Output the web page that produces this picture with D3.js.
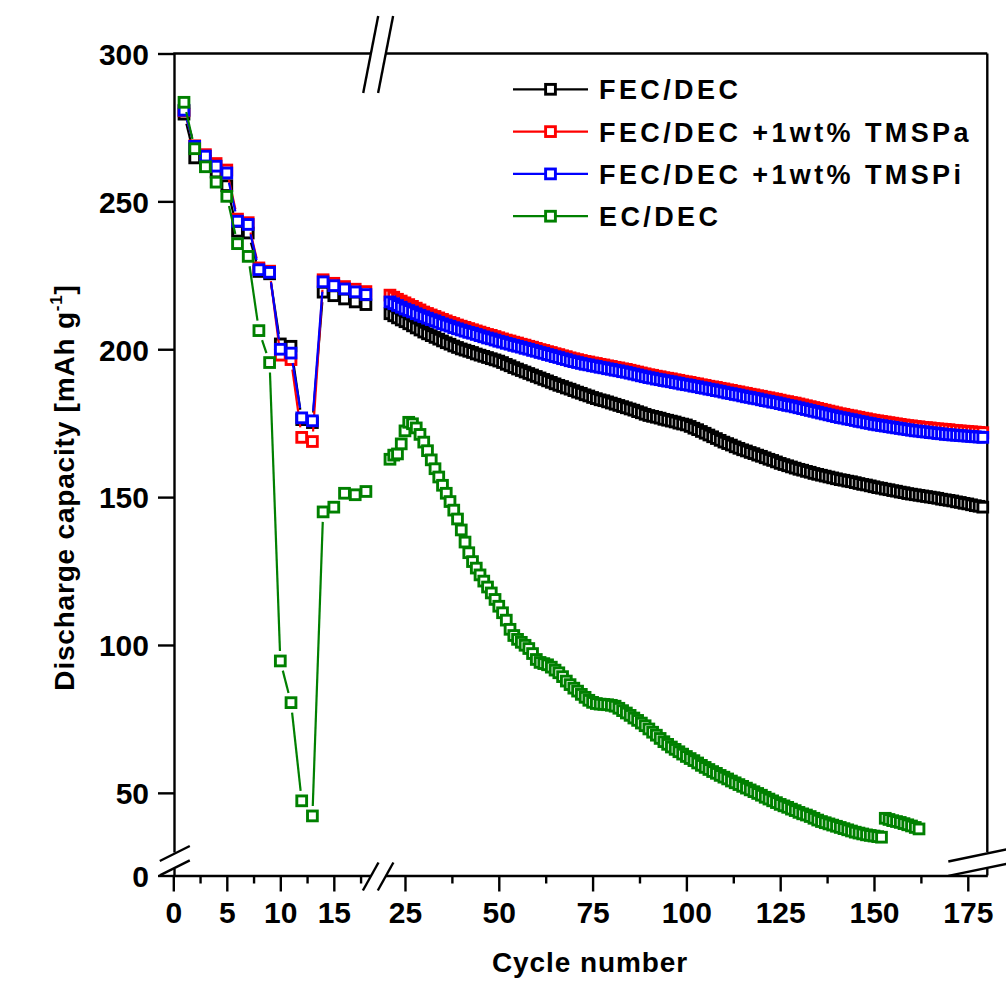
<!DOCTYPE html>
<html>
<head>
<meta charset="utf-8">
<script src="https://cdn.jsdelivr.net/npm/d3@7"></script>
<style>
  body { margin: 0; background: #fff; }
  svg text { font-family: "Liberation Sans", Arial, sans-serif; font-weight: bold; fill: #000; }
</style>
</head>
<body>
<svg id="chart" width="1006" height="983"></svg>
<script>
const seriesNames = ["FEC/DEC", "FEC/DEC +1wt% TMSPa", "FEC/DEC +1wt% TMSPi", "EC/DEC"];
const seriesColors = ["#000000", "#ff0000", "#0000ff", "#008000"];

// cycles 1..18 (left part of the broken x axis)
const earlyStart = 1;
const black1 = [279.5, 264.7, 263.6, 259.9, 255.3, 239.9, 239.3, 226.3, 225.5, 201.8, 201.0, 176.2, 175.2, 219.3, 218.1, 217.0, 216.0, 215.1];
const red1   = [280.6, 268.8, 265.8, 262.8, 260.6, 244.0, 242.8, 227.5, 226.4, 198.0, 196.5, 170.2, 168.8, 223.5, 222.3, 221.2, 220.3, 219.5];
const blue1  = [280.8, 268.6, 265.3, 261.9, 259.6, 243.3, 242.2, 226.9, 226.0, 200.0, 198.7, 176.8, 175.8, 222.8, 221.5, 220.4, 219.4, 218.5];
const green1 = [283.5, 267.8, 261.7, 256.5, 251.7, 235.7, 231.4, 206.3, 195.5, 94.6, 80.5, 47.3, 42.2, 145.0, 146.6, 151.3, 150.8, 151.9];

// cycles 21.. (right part of the broken x axis)
const lateStart = 21;
const black2 = [
  212.0, 211.3, 210.6, 209.9, 209.3, 208.6, 207.9, 207.2, 206.5, 205.8,
  205.2, 204.6, 204.0, 203.4, 202.8, 202.2, 201.7, 201.1, 200.6, 200.1,
  199.7, 199.3, 198.9, 198.4, 198.0, 197.6, 197.2, 196.8, 196.4, 196.0,
  195.5, 194.9, 194.4, 193.8, 193.3, 192.8, 192.3, 191.8, 191.3, 190.8,
  190.3, 189.8, 189.3, 188.8, 188.3, 187.8, 187.4, 186.9, 186.5, 186.0,
  185.5, 185.1, 184.6, 184.2, 183.7, 183.3, 182.9, 182.6, 182.2, 181.8,
  181.4, 181.0, 180.6, 180.2, 179.8, 179.4, 178.9, 178.5, 178.0, 177.6,
  177.3, 177.0, 176.7, 176.3, 176.0, 175.7, 175.4, 175.0, 174.7, 174.4,
  173.9, 173.3, 172.8, 172.2, 171.6, 171.0, 170.4, 169.8, 169.2, 168.6,
  168.1, 167.6, 167.0, 166.5, 166.0, 165.6, 165.1, 164.7, 164.2, 163.8,
  163.3, 162.8, 162.4, 161.9, 161.4, 161.0, 160.6, 160.2, 159.8, 159.4,
  159.1, 158.7, 158.4, 158.0, 157.7, 157.4, 157.1, 156.8, 156.5, 156.2,
  155.9, 155.7, 155.4, 155.2, 154.9, 154.6, 154.3, 154.1, 153.8, 153.5,
  153.2, 153.0, 152.7, 152.5, 152.2, 152.0, 151.7, 151.5, 151.2, 151.0,
  150.8, 150.6, 150.4, 150.2, 150.0, 149.8, 149.6, 149.3, 149.1, 148.9,
  148.7, 148.4, 148.2, 147.9, 147.7, 147.4, 147.1, 146.9, 146.6
];
const red2 = [
  218.3, 217.6, 216.9, 216.3, 215.7, 215.1, 214.5, 213.9, 213.3, 212.6,
  212.1, 211.6, 211.1, 210.6, 210.1, 209.6, 209.1, 208.7, 208.2, 207.8,
  207.4, 207.0, 206.6, 206.2, 205.8, 205.4, 205.0, 204.7, 204.3, 203.9,
  203.5, 203.1, 202.8, 202.4, 202.1, 201.7, 201.4, 201.0, 200.7, 200.3,
  199.9, 199.6, 199.2, 198.9, 198.5, 198.2, 197.8, 197.5, 197.1, 196.8,
  196.5, 196.2, 195.9, 195.7, 195.4, 195.2, 194.9, 194.7, 194.4, 194.2,
  193.9, 193.7, 193.4, 193.2, 192.9, 192.6, 192.3, 192.0, 191.7, 191.4,
  191.2, 190.9, 190.7, 190.4, 190.2, 190.0, 189.7, 189.5, 189.2, 189.0,
  188.8, 188.5, 188.3, 188.0, 187.8, 187.5, 187.3, 187.1, 186.8, 186.6,
  186.3, 186.1, 185.8, 185.6, 185.3, 185.1, 184.8, 184.6, 184.3, 184.1,
  183.8, 183.6, 183.3, 183.1, 182.8, 182.5, 182.3, 182.0, 181.8, 181.5,
  181.2, 180.9, 180.6, 180.3, 180.0, 179.7, 179.4, 179.1, 178.8, 178.5,
  178.2, 178.0, 177.7, 177.5, 177.2, 177.0, 176.7, 176.5, 176.2, 176.0,
  175.8, 175.6, 175.4, 175.2, 175.0, 174.8, 174.6, 174.4, 174.2, 174.1,
  173.9, 173.8, 173.6, 173.5, 173.4, 173.2, 173.1, 173.0, 172.9, 172.8,
  172.6, 172.5, 172.4, 172.3, 172.2, 172.1, 172.0, 171.9, 171.8
];
const blue2 = [
  216.0, 215.4, 214.8, 214.2, 213.6, 213.1, 212.6, 212.0, 211.5, 211.0,
  210.5, 210.0, 209.6, 209.1, 208.6, 208.2, 207.8, 207.3, 206.9, 206.5,
  206.1, 205.7, 205.4, 205.0, 204.6, 204.2, 203.8, 203.5, 203.1, 202.7,
  202.4, 202.0, 201.7, 201.3, 201.0, 200.7, 200.3, 200.0, 199.6, 199.3,
  198.9, 198.6, 198.2, 197.9, 197.5, 197.2, 196.8, 196.5, 196.1, 195.8,
  195.5, 195.2, 194.9, 194.7, 194.4, 194.2, 193.9, 193.7, 193.4, 193.2,
  192.9, 192.7, 192.4, 192.2, 191.9, 191.6, 191.3, 191.0, 190.7, 190.4,
  190.2, 189.9, 189.7, 189.4, 189.2, 189.0, 188.7, 188.5, 188.2, 188.0,
  187.8, 187.5, 187.3, 187.0, 186.8, 186.5, 186.3, 186.0, 185.8, 185.5,
  185.2, 185.0, 184.7, 184.5, 184.2, 183.9, 183.7, 183.4, 183.2, 182.9,
  182.6, 182.4, 182.1, 181.9, 181.6, 181.3, 181.0, 180.8, 180.5, 180.2,
  179.9, 179.6, 179.3, 179.0, 178.7, 178.4, 178.1, 177.8, 177.5, 177.2,
  176.9, 176.7, 176.4, 176.2, 175.9, 175.6, 175.4, 175.1, 174.9, 174.6,
  174.4, 174.2, 174.0, 173.8, 173.6, 173.4, 173.2, 173.0, 172.8, 172.6,
  172.4, 172.3, 172.1, 172.0, 171.8, 171.7, 171.5, 171.4, 171.2, 171.1,
  171.0, 170.9, 170.8, 170.7, 170.6, 170.5, 170.4, 170.3, 170.2
];
const green2 = [
  162.8, 164.2, 164.6, 168.0, 172.4, 175.3, 174.8, 173.4, 171.2, 168.6,
  165.7, 162.6, 159.6, 156.8, 154.0, 151.3, 148.5, 145.6, 142.6, 138.9,
  134.8, 131.2, 128.2, 126.0, 123.7, 121.6, 119.6, 117.6, 115.4, 113.1,
  110.9, 108.4, 105.3, 103.2, 101.9, 100.9, 99.9, 98.8, 97.1, 95.1,
  94.1, 93.7, 93.3, 92.5, 91.5, 90.6, 89.3, 87.8, 86.6, 85.4,
  84.4, 83.3, 82.3, 81.3, 80.6, 80.2, 80.0, 79.9, 79.8, 79.6,
  79.3, 78.6, 77.8, 77.0, 76.2, 75.3, 74.5, 73.6, 72.7, 71.6,
  70.5, 69.5, 68.4, 67.3, 66.4, 65.5, 64.7, 63.9, 63.1, 62.3,
  61.6, 60.9, 60.1, 59.3, 58.6, 57.9, 57.2, 56.6, 55.9, 55.3,
  54.7, 54.0, 53.4, 52.8, 52.2, 51.6, 51.0, 50.4, 49.8, 49.2,
  48.5, 47.9, 47.3, 46.7, 46.1, 45.6, 45.1, 44.5, 44.0, 43.4,
  42.9, 42.5, 42.0, 41.4, 40.8, 40.3, 39.9, 39.5, 39.1, 38.7,
  38.3, 37.9, 37.5, 37.1, 36.7, 36.4, 36.1, 35.8, 35.6, 35.4,
  35.2, 35.0, 41.4, 41.0, 40.6, 40.3, 40.0, 39.6, 39.2, 38.8,
  38.3, 37.8
];

const xTicksEarly = [0, 5, 10, 15];
const xMinorEarly = [2.5, 7.5, 12.5, 17.5];
const xTicksLate = [25, 50, 75, 100, 125, 150, 175];
const xMinorLate = [37.5, 62.5, 87.5, 112.5, 137.5, 162.5];
const yTicksHigh = [50, 100, 150, 200, 250, 300];
const yTicksLow = [0];

const earlySeries = [black1, red1, blue1, green1];
const lateSeries = [black2, red2, blue2, green2];

// ---- scales (broken axes) ----
const xEarly = d3.scaleLinear().domain([0, 18.4]).range([173.3, 370.2]);
const xLate = d3.scaleLinear().domain([19.7, 180.2]).range([385.1, 987.3]);
const yHigh = d3.scaleLinear().domain([30, 300]).range([852, 53.5]);
const yLow = d3.scaleLinear().domain([0, 2.4]).range([875.5, 868.4]);

const axisW = 2.4;
const svg = d3.select("#chart");

const xLeft = xEarly.range()[0];
const xRight = xLate.range()[1];
const yTop = yHigh.range()[1];
const yBottom = yLow.range()[0];

function styleAxis(g, fontSize) {
  g.attr("font-family", null).attr("font-size", null);
  g.selectAll("path, line").attr("stroke", "#000").attr("stroke-width", axisW);
  g.selectAll("text").style("font-size", fontSize + "px");
}

// bottom axis
[[xEarly, xTicksEarly, xMinorEarly], [xLate, xTicksLate, xMinorLate]].forEach(([sc, major, minor]) => {
  const gMaj = svg.append("g").attr("transform", `translate(0,${yBottom})`)
    .call(d3.axisBottom(sc).tickValues(major).tickSize(16).tickSizeOuter(0).tickFormat(d3.format("d")));
  styleAxis(gMaj, 30);
  gMaj.selectAll("text").attr("y", 26);
  const gMin = svg.append("g").attr("transform", `translate(0,${yBottom})`)
    .call(d3.axisBottom(sc).tickValues(minor).tickSize(8).tickSizeOuter(0).tickFormat(""));
  styleAxis(gMin, 30);
  gMin.select(".domain").remove();
});

// left axis
[[yHigh, yTicksHigh], [yLow, yTicksLow]].forEach(([sc, ticks]) => {
  const g = svg.append("g").attr("transform", `translate(${xLeft + 0.7},0)`)
    .call(d3.axisLeft(sc).tickValues(ticks).tickSize(16).tickSizeOuter(0).tickFormat(d3.format("d")));
  styleAxis(g, 30);
  g.selectAll("text").attr("x", -25).attr("dy", "0.36em");
});

// top and right frame lines
const frame = svg.append("g").attr("stroke", "#000").attr("stroke-width", axisW).attr("fill", "none");
[xEarly, xLate].forEach(sc => {
  frame.append("line").attr("x1", sc.range()[0]).attr("x2", sc.range()[1]).attr("y1", yTop).attr("y2", yTop);
});
[yHigh, yLow].forEach(sc => {
  frame.append("line").attr("x1", xRight).attr("x2", xRight).attr("y1", sc.range()[0]).attr("y2", sc.range()[1]);
});

// break marks
const xBreaks = [xEarly.range()[1] + 0.5, xLate.range()[0] + 0.5];
xBreaks.forEach(cx => {
  frame.append("line").attr("x1", cx + 7.5).attr("y1", yTop - 37.5).attr("x2", cx - 7.5).attr("y2", yTop + 39.5);
  frame.append("line").attr("x1", cx - 7.8).attr("y1", yBottom + 15).attr("x2", cx + 7.8).attr("y2", yBottom - 13);
});
const yBreaks = [yHigh.range()[0] + 1.5, yLow.range()[1] - 0.5];
yBreaks.forEach(cy => {
  frame.append("line").attr("x1", xLeft - 13.5).attr("y1", cy + 7.5).attr("x2", xLeft + 16.5).attr("y2", cy - 7.5);
  frame.append("line").attr("x1", xRight - 39).attr("y1", cy + 8).attr("x2", xRight + 19).attr("y2", cy - 4);
});

// ---- data ----
const gap = 10;
const lineGen = d3.line();
function gapSegments(pts) {
  const segs = [];
  for (let i = 1; i < pts.length; i++) {
    const [x0, y0] = pts[i - 1], [x1, y1] = pts[i];
    const len = Math.hypot(x1 - x0, y1 - y0);
    if (len <= 2 * gap) continue;
    const ux = (x1 - x0) / len, uy = (y1 - y0) / len;
    segs.push([[x0 + ux * gap, y0 + uy * gap], [x1 - ux * gap, y1 - uy * gap]]);
  }
  return segs;
}

const mSize = 9.8;
const mStroke = 2.9;
seriesNames.forEach((name, si) => {
  const color = seriesColors[si];
  const g = svg.append("g").attr("class", "series");
  const parts = [
    earlySeries[si].map((v, i) => [xEarly(earlyStart + i), yHigh(v)]),
    lateSeries[si].map((v, i) => [xLate(lateStart + i), yHigh(v)])
  ];
  parts.forEach(pts => {
    g.selectAll(null).data(gapSegments(pts)).enter().append("path")
      .attr("d", lineGen).attr("fill", "none").attr("stroke", color).attr("stroke-width", 2.2);
    g.selectAll(null).data(pts).enter().append("rect")
      .attr("x", d => d[0] - mSize / 2).attr("y", d => d[1] - mSize / 2)
      .attr("width", mSize).attr("height", mSize)
      .attr("fill", "#fff").attr("stroke", color).attr("stroke-width", mStroke);
  });
});

// ---- legend ----
const legendX = 513, legendRow0 = 89.3, legendStep = 42.3;
const legend = svg.append("g");
seriesNames.forEach((name, i) => {
  const y = legendRow0 + i * legendStep;
  legend.append("line").attr("x1", legendX).attr("x2", legendX + 75).attr("y1", y).attr("y2", y)
    .attr("stroke", seriesColors[i]).attr("stroke-width", 2.2);
  legend.append("rect").attr("x", legendX + 37.5 - mSize / 2).attr("y", y - mSize / 2)
    .attr("width", mSize).attr("height", mSize)
    .attr("fill", "#fff").attr("stroke", seriesColors[i]).attr("stroke-width", mStroke);
  legend.append("text").attr("x", legendX + 86).attr("y", y + 10)
    .style("font-size", "27px").style("letter-spacing", "3.4px").text(name);
});

// ---- axis titles ----
svg.append("text").attr("x", 590).attr("y", 971.5).attr("text-anchor", "middle")
  .style("font-size", "28px").style("letter-spacing", "0.9px").text("Cycle number");

const yTitle = svg.append("text")
  .attr("transform", "translate(73.5,487.5) rotate(-90)")
  .attr("text-anchor", "middle")
  .style("font-size", "28px").style("letter-spacing", "0.8px");
yTitle.append("tspan").text("Discharge capacity [mAh g");
yTitle.append("tspan").attr("dy", -12).style("font-size", "17px").text("-1");
yTitle.append("tspan").attr("dy", 12).text("]");
</script>
</body>
</html>
